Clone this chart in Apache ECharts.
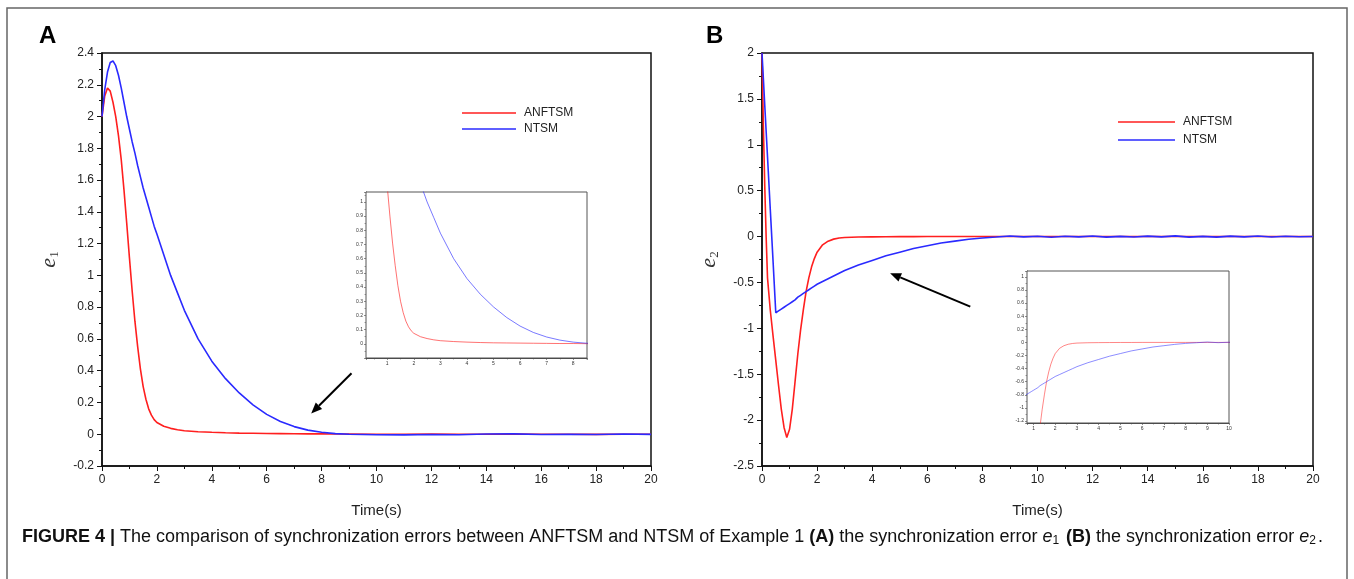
<!DOCTYPE html>
<html>
<head>
<meta charset="utf-8">
<script src="https://cdn.jsdelivr.net/npm/echarts@6/dist/echarts.min.js"></script>
<style>html,body{margin:0;background:#fff}#main{width:1354px;height:579px}</style>
</head>
<body>
<div id="main"></div>
<script>
// panel A : e1
var timeA = [0,0.1,0.2,0.3,0.4,0.5,0.6,0.7,0.8,0.9,1,1.1,1.2,1.3,1.4,1.5,1.6,1.7,1.8,1.9,2,
  2.25,2.5,2.75,3,3.5,4,4.5,5,5.5,6,6.5,7,7.5,8,8.5,9,10,11,12,13,14,15,16,17,18,19,20];
var anftsmA = [2.0,2.13,2.18,2.16,2.09,2.0,1.88,1.73,1.54,1.33,1.11,0.9,0.71,0.55,0.41,0.3,0.22,0.16,0.12,0.092,0.074,
  0.05,0.037,0.028,0.022,0.016,0.012,0.009,0.007,0.006,0.005,0.004,0.003,0.002,0.002,0.001,0.001,
  0,0,0.001,0,0,0.001,0,0,-0.001,0,0];
var ntsmA = [2.0,2.17,2.28,2.34,2.35,2.32,2.26,2.18,2.09,2.0,1.92,1.84,1.77,1.69,1.62,1.55,1.49,1.43,1.37,1.31,1.26,
  1.13,1.0,0.89,0.78,0.6,0.46,0.35,0.26,0.185,0.125,0.08,0.048,0.026,0.012,0.004,0,
  -0.003,-0.004,-0.002,-0.003,0.001,0.002,-0.002,-0.001,-0.002,0.001,-0.001];

// panel B : e2
var timeB = [0,0.05,0.1,0.15,0.2,0.3,0.4,0.5,0.6,0.7,0.8,0.9,1,1.1,1.2,1.3,1.4,1.5,1.6,1.7,1.8,1.9,2,
  2.2,2.4,2.6,2.8,3,3.5,4,4.5,5,5.5,6,6.5,7,7.5,8,8.5,9,9.5,10,10.5,11,11.5,12,12.5,13,13.5,
  14,14.5,15,15.5,16,16.5,17,17.5,18,18.5,19,19.5,20];
var anftsmB = [2.0,1.2,0.55,0.0,-0.45,-0.8,-1.08,-1.35,-1.62,-1.88,-2.08,-2.19,-2.1,-1.88,-1.58,-1.28,-1.02,-0.8,-0.6,-0.45,-0.33,-0.24,-0.17,
  -0.09,-0.05,-0.028,-0.016,-0.01,-0.005,-0.003,-0.002,-0.001,-0.001,0,0,0,0,0,0,0,0,0,0,0,0,0,0,0,0,
  0,0,0,0,0,0,0,0,0,0,0,0,0];
var ntsmB = [2.0,1.72,1.43,1.15,0.87,0.3,-0.26,-0.83,-0.81,-0.79,-0.77,-0.75,-0.73,-0.71,-0.69,-0.66,-0.64,-0.62,-0.6,-0.58,-0.56,-0.54,-0.52,
  -0.49,-0.46,-0.43,-0.4,-0.37,-0.31,-0.26,-0.21,-0.17,-0.13,-0.1,-0.07,-0.05,-0.03,-0.015,-0.005,
  0.006,-0.004,0.003,-0.007,0.004,-0.003,0.006,-0.006,0.002,-0.005,0.005,-0.004,0.007,-0.006,0.002,-0.006,0.005,-0.003,0.006,-0.005,0.004,-0.002,0.001];

var seriesNames = ['ANFTSM', 'NTSM'];
var caption = 'The comparison of synchronization errors between ANFTSM and NTSM of Example 1 ';

var RED = '#ff1f1f', BLUE = '#2a2aff';
var FONT = 'Liberation Sans, Arial, sans-serif';

function pairs(t, v) {
    return t.map(function (x, i) { return [x, v[i]]; });
}

function mainX(idx) {
    return {
        gridIndex: idx, type: 'value', min: 0, max: 20, interval: 2,
        name: 'Time(s)', nameLocation: 'middle', nameGap: 37,
        nameTextStyle: {fontFamily: FONT, fontSize: 15, color: '#222'},
        axisLine: {onZero: false, lineStyle: {color: '#111', width: 1.5}},
        axisTick: {length: 5, lineStyle: {color: '#111'}},
        minorTick: {show: true, splitNumber: 2, length: 3, lineStyle: {color: '#111'}},
        axisLabel: {fontFamily: FONT, fontSize: 12, color: '#222', margin: 8},
        splitLine: {show: false}
    };
}
function mainY(idx, min, max, step, sub) {
    return {
        gridIndex: idx, type: 'value', min: min, max: max, interval: step,
        name: '{i|e}{s|' + sub + '}', nameLocation: 'middle', nameGap: 41,
        nameTextStyle: {rich: {
            i: {fontFamily: 'Liberation Serif, serif', fontStyle: 'italic', fontSize: 22, color: '#333'},
            s: {fontFamily: 'Liberation Serif, serif', fontSize: 13, color: '#333', verticalAlign: 'bottom', padding: [10, 0, 0, 0]}
        }},
        axisLine: {onZero: false, lineStyle: {color: '#111', width: 1.5}},
        axisTick: {length: 5, lineStyle: {color: '#111'}},
        minorTick: {show: true, splitNumber: 2, length: 3, lineStyle: {color: '#111'}},
        axisLabel: {fontFamily: FONT, fontSize: 12, color: '#222', margin: 8},
        splitLine: {show: false}
    };
}
function insetAxis(dim, idx, min, max, split) {
    return {
        gridIndex: idx, type: 'value', min: min, max: max, splitNumber: split,
        axisLine: {onZero: false, lineStyle: {color: '#444', width: 1}},
        axisTick: {length: 2, lineStyle: {color: '#444', width: 0.6}},
        minorTick: {show: true, splitNumber: 2, length: 1.5, lineStyle: {color: '#444', width: 0.5}},
        axisLabel: {fontFamily: FONT, fontSize: 5, color: '#333', margin: 3,
            showMinLabel: false, showMaxLabel: dim === 'x' && idx === 3},
        splitLine: {show: false}
    };
}
function line(name, grid, data, color, width, opacity) {
    return {
        name: name, type: 'line', xAxisIndex: grid, yAxisIndex: grid,
        data: data, showSymbol: false, symbol: 'none', clip: true,
        lineStyle: {color: color, width: width, opacity: opacity},
        itemStyle: {color: color}, z: grid >= 2 ? 5 : 2
    };
}

var chart = echarts.init(document.getElementById('main'));
var option = {
    backgroundColor: '#fff',
    animation: false,
    grid: [
        {left: 102, top: 53, width: 549, height: 413, show: true, borderColor: '#111', borderWidth: 1.5},
        {left: 762, top: 53, width: 551, height: 413, show: true, borderColor: '#111', borderWidth: 1.5},
        {left: 366, top: 192, width: 221, height: 166, show: true, borderColor: '#555', borderWidth: 1, backgroundColor: '#fff', z: 4},
        {left: 1027, top: 271, width: 202, height: 152, show: true, borderColor: '#555', borderWidth: 1, backgroundColor: '#fff', z: 4}
    ],
    xAxis: [mainX(0), mainX(1), insetAxis('x', 2, 0.2, 8.52, 8), insetAxis('x', 3, 0.7, 10, 9)],
    yAxis: [mainY(0, -0.2, 2.4, 0.2, '1'), mainY(1, -2.5, 2, 0.5, '2'),
        insetAxis('y', 2, -0.1, 1.07, 11), insetAxis('y', 3, -1.23, 1.09, 11)],
    legend: [
        {data: seriesNames, orient: 'vertical', left: 462, top: 107, padding: 0, itemGap: 4,
         icon: 'rect', itemWidth: 54, itemHeight: 1.6, selectedMode: false,
         textStyle: {fontFamily: FONT, fontSize: 12, color: '#222', padding: [0, 0, 0, 3]}},
        {data: seriesNames, orient: 'vertical', left: 1118, top: 116, padding: 0, itemGap: 6,
         icon: 'rect', itemWidth: 57, itemHeight: 1.6, selectedMode: false,
         textStyle: {fontFamily: FONT, fontSize: 12, color: '#222', padding: [0, 0, 0, 3]}}
    ],
    series: [
        line(seriesNames[0], 0, pairs(timeA, anftsmA), RED, 1.6, 1),
        line(seriesNames[1], 0, pairs(timeA, ntsmA), BLUE, 1.6, 1),
        line(seriesNames[0], 1, pairs(timeB, anftsmB), RED, 1.6, 1),
        line(seriesNames[1], 1, pairs(timeB, ntsmB), BLUE, 1.6, 1),
        line(seriesNames[0], 2, pairs(timeA, anftsmA), RED, 0.9, 0.7),
        line(seriesNames[1], 2, pairs(timeA, ntsmA), BLUE, 0.9, 0.7),
        line(seriesNames[0], 3, pairs(timeB, anftsmB), RED, 0.9, 0.6),
        line(seriesNames[1], 3, pairs(timeB, ntsmB), BLUE, 0.9, 0.6)
    ]
};
chart.setOption(option);

// arrows pointing from the insets to the zoomed region
function arrow(grid, from, to) {
    var p = chart.convertToPixel({gridIndex: grid}, from);
    var q = chart.convertToPixel({gridIndex: grid}, to);
    var dx = q[0] - p[0], dy = q[1] - p[1], len = Math.sqrt(dx * dx + dy * dy);
    var ux = dx / len, uy = dy / len, hl = 11, hw = 4.5;
    var bx = q[0] - ux * hl, by = q[1] - uy * hl;
    return [
        {type: 'line', shape: {x1: p[0], y1: p[1], x2: bx, y2: by}, style: {stroke: '#000', lineWidth: 2}, z: 10},
        {type: 'polygon', shape: {points: [[q[0], q[1]], [bx - uy * hw, by + ux * hw], [bx + uy * hw, by - ux * hw]]},
         style: {fill: '#000'}, z: 10}
    ];
}

var graphics = [
    {type: 'rect', shape: {x: 7, y: 8, width: 1340, height: 600}, style: {fill: null, stroke: '#666', lineWidth: 1.5}, z: 0},
    {type: 'text', left: 39, top: 24, style: {text: 'A', font: 'bold 24px ' + FONT, fill: '#000'}},
    {type: 'text', left: 706, top: 24, style: {text: 'B', font: 'bold 24px ' + FONT, fill: '#000'}},
    {type: 'text', left: 22, top: 528, style: {
        text: '{b|FIGURE 4 | }{n|' + caption + '}{b|(A)}{n| the synchronization error }{i|e}{s|1}{b| (B)}{n| the synchronization error }{i|e}{s|2}{n|.}',
        rich: {
            b: {fontFamily: FONT, fontWeight: 'bold', fontSize: 18, fill: '#111'},
            n: {fontFamily: FONT, fontSize: 18, fill: '#111'},
            i: {fontFamily: FONT, fontStyle: 'italic', fontSize: 18, fill: '#111'},
            s: {fontFamily: FONT, fontSize: 12, fill: '#111', verticalAlign: 'bottom', padding: [8, 2, 0, 0]}
        }
    }}
].concat(arrow(0, [9.09, 0.384], [7.62, 0.13]), arrow(1, [7.56, -0.763], [4.65, -0.399]));

chart.setOption({graphic: graphics});
</script>
</body>
</html>
